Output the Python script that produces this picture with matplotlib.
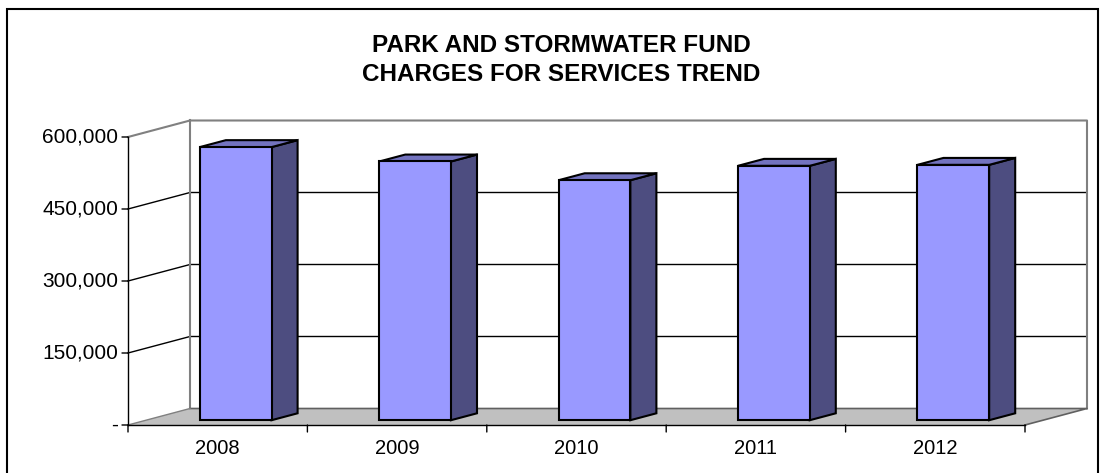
import matplotlib
matplotlib.use("Agg")
import matplotlib.pyplot as plt
from matplotlib.patches import Polygon, Rectangle

# ---- data ----
years = ["2008", "2009", "2010", "2011", "2012"]
charges = [569000, 539000, 500000, 530000, 532000]
y_ticks = [0, 150000, 300000, 450000, 600000]
y_labels = ["-", "150,000", "300,000", "450,000", "600,000"]
title = "PARK AND STORMWATER FUND\nCHARGES FOR SERVICES TREND"

# ---- styling ----
FRONT = "#9999FF"
SIDE = "#4D4D80"
TOP = "#7373BF"
FLOOR = "#C0C0C0"
WALL_EDGE = "#808080"
FONT = "Liberation Sans"

W, H = 1104, 473
fig = plt.figure(figsize=(W / 100, H / 100), dpi=100)
fig.patch.set_facecolor("white")

# outer chart frame
fig.add_artist(Rectangle((7 / W, -0.05), (1098 - 7) / W, (H - 9) / H + 0.05,
                         transform=fig.transFigure, fill=False,
                         edgecolor="black", linewidth=1.5))

# front plane of the plot area
x0, x1 = 128, 1025
yb, yt = 425, 137
ax = fig.add_axes([x0 / W, (H - yb) / H, (x1 - x0) / W, (yb - yt) / H])
ax.set_xlim(0, len(years))
ax.set_ylim(0, 600000)
ax.axis("off")

# oblique depth offsets (category units, value units) for full depth
DX = 62 / ((x1 - x0) / len(years))
DV = 16.5 / (yb - yt) * 600000
ymax = 600000
n = len(years)


def pt(x, v, t):
    return (x + t * DX, v + t * DV)


def poly(pts, **kw):
    p = Polygon(pts, closed=True, clip_on=False, **kw)
    ax.add_patch(p)
    return p


# back wall and left wall (white)
poly([pt(0, 0, 1), pt(n, 0, 1), pt(n, ymax, 1), pt(0, ymax, 1)],
     facecolor="white", edgecolor="none", zorder=1)

# gridlines on back wall and left wall
for v in y_ticks[1:-1]:
    ax.plot([0, 0 + DX, n + DX], [v, v + DV, v + DV], color="black",
            linewidth=1.0, clip_on=False, zorder=2)

# wall borders
ax.plot([0, DX, n + DX, n + DX], [ymax, ymax + DV, ymax + DV, DV],
        color=WALL_EDGE, linewidth=1.5, clip_on=False, zorder=2)
ax.plot([DX, DX], [DV, ymax + DV], color=WALL_EDGE, linewidth=1.5,
        clip_on=False, zorder=2)

# floor
poly([pt(0, 0, 0), pt(n, 0, 0), pt(n, 0, 1), pt(0, 0, 1)],
     facecolor=FLOOR, edgecolor="none", zorder=3)
ax.plot([DX, n + DX, n], [DV, DV, 0], color="#606060", linewidth=1.2,
        clip_on=False, zorder=3)
ax.plot([0, DX], [0, DV], color="#808080", linewidth=1.0, clip_on=False, zorder=3)

# 3-D columns
bw = 0.4
t0, t1 = 0.29, 0.71
for i, val in enumerate(charges):
    xl = i + 0.5 - bw / 2
    xr = i + 0.5 + bw / 2
    # right side face
    poly([pt(xr, 0, t0), pt(xr, 0, t1), pt(xr, val, t1), pt(xr, val, t0)],
         facecolor=SIDE, edgecolor="black", linewidth=1.5, zorder=4,
         joinstyle="miter")
    # top face
    poly([pt(xl, val, t0), pt(xr, val, t0), pt(xr, val, t1), pt(xl, val, t1)],
         facecolor=TOP, edgecolor="black", linewidth=1.5, zorder=4,
         joinstyle="miter")
    # front face
    poly([pt(xl, 0, t0), pt(xr, 0, t0), pt(xr, val, t0), pt(xl, val, t0)],
         facecolor=FRONT, edgecolor="black", linewidth=1.5, zorder=5,
         joinstyle="miter")

# value axis (front left edge) with ticks
ax.plot([0, 0], [0, ymax], color="black", linewidth=1.0, clip_on=False, zorder=6)
for v in y_ticks:
    ax.annotate("", xy=(0, v), xytext=(-6, 0), textcoords="offset pixels",
                xycoords="data",
                arrowprops=dict(arrowstyle="-", color="black", lw=1.0,
                                shrinkA=0, shrinkB=0))
for v, lab in zip(y_ticks, y_labels):
    ax.annotate(lab, xy=(0, v), xytext=(-10, 0), textcoords="offset pixels",
                ha="right", va="center", fontsize=15, family=FONT)

# category axis (front floor edge)
ax.plot([0, n], [0, 0], color="black", linewidth=1.0, clip_on=False, zorder=6)
for k in range(n + 1):
    ax.annotate("", xy=(k, 0), xytext=(0, -7), textcoords="offset pixels",
                arrowprops=dict(arrowstyle="-", color="black", lw=1.0,
                                shrinkA=0, shrinkB=0))
for i, lab in enumerate(years):
    ax.annotate(lab, xy=(i + 0.5, 0), xytext=(0, -23), textcoords="offset pixels",
                ha="center", va="center", fontsize=14.5, family=FONT)

fig.text(561 / W, 1 - 60 / H, title, ha="center", va="center", fontsize=17.5,
         fontweight="bold", family=FONT, linespacing=1.28)

fig.savefig("out.png", dpi=100)
